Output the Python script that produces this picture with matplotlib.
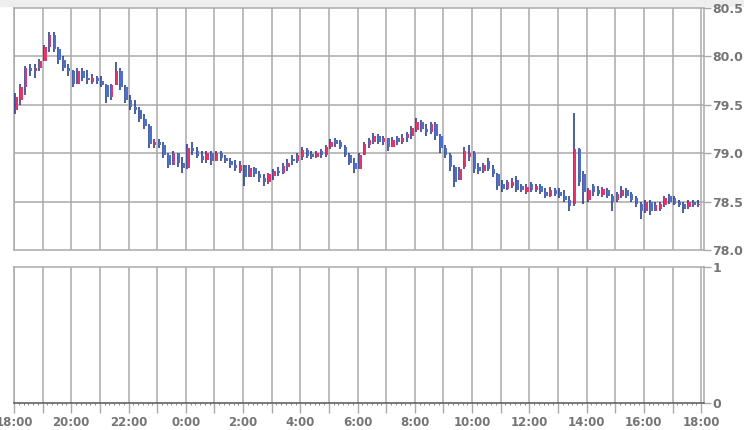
import numpy as np
import matplotlib.pyplot as plt
from matplotlib.patches import Rectangle

# --- 10-minute bars, 18:00 -> 18:00 ---
opens = [79.45, 79.55, 79.68, 79.88, 79.85, 79.88, 79.95, 80.10, 80.22, 80.08, 79.96, 79.88,
         79.85, 79.72, 79.85, 79.78, 79.74, 79.78, 79.75, 79.70, 79.58, 79.70, 79.85, 79.68,
         79.55, 79.48, 79.45, 79.35, 79.28, 79.08, 79.12, 79.08, 78.98, 78.88, 79.00, 78.90,
         78.85, 79.05, 79.02, 78.97, 78.93, 79.00, 78.92, 79.00, 78.95, 78.92, 78.88, 78.82,
         78.88, 78.75, 78.85, 78.78, 78.74, 78.70, 78.76, 78.82, 78.80, 78.86, 78.94, 78.92,
         78.96, 79.03, 78.99, 78.96, 79.02, 78.98, 79.06, 79.14, 79.12, 79.06, 78.98, 78.90,
         78.84, 78.98, 79.08, 79.12, 79.18, 79.12, 79.16, 79.06, 79.16, 79.12, 79.16, 79.18,
         79.24, 79.32, 79.25, 79.22, 79.30, 79.18, 79.05, 78.98, 78.86, 78.72, 78.86, 78.96,
         79.00, 78.86, 78.82, 78.92, 78.84, 78.78, 78.68, 78.63, 78.66, 78.72, 78.66, 78.60,
         78.68, 78.62, 78.66, 78.60, 78.56, 78.62, 78.60, 78.56, 78.52, 78.48, 79.04, 78.78,
         78.52, 78.66, 78.62, 78.57, 78.62, 78.56, 78.52, 78.56, 78.62, 78.58, 78.54, 78.48,
         78.40, 78.50, 78.40, 78.42, 78.46, 78.56, 78.54, 78.50, 78.48, 78.44, 78.50, 78.46]
highs = [79.62, 79.72, 79.90, 79.92, 79.92, 79.97, 80.12, 80.25, 80.25, 80.10, 80.00, 79.92,
         79.86, 79.88, 79.88, 79.86, 79.82, 79.80, 79.80, 79.72, 79.72, 79.94, 79.88, 79.70,
         79.60, 79.55, 79.48, 79.40, 79.30, 79.15, 79.15, 79.12, 79.00, 79.02, 79.00, 78.96,
         79.10, 79.12, 79.06, 79.02, 79.02, 79.02, 79.02, 79.02, 78.98, 78.95, 78.93, 78.92,
         78.88, 78.88, 78.86, 78.82, 78.78, 78.80, 78.84, 78.86, 78.90, 78.94, 78.98, 79.00,
         79.06, 79.05, 79.02, 79.02, 79.04, 79.08, 79.15, 79.16, 79.14, 79.08, 79.00, 78.95,
         79.00, 79.12, 79.16, 79.21, 79.20, 79.18, 79.16, 79.17, 79.18, 79.20, 79.22, 79.28,
         79.36, 79.34, 79.30, 79.32, 79.32, 79.20, 79.08, 79.00, 78.88, 78.86, 79.06, 79.08,
         79.02, 78.90, 78.90, 78.95, 78.88, 78.80, 78.72, 78.72, 78.74, 78.76, 78.68, 78.68,
         78.70, 78.68, 78.68, 78.64, 78.65, 78.64, 78.64, 78.62, 78.56, 79.42, 79.05, 78.82,
         78.64, 78.68, 78.66, 78.65, 78.64, 78.58, 78.60, 78.66, 78.64, 78.60, 78.56, 78.50,
         78.52, 78.52, 78.50, 78.50, 78.56, 78.58, 78.56, 78.52, 78.50, 78.52, 78.52, 78.52]
lows = [79.40, 79.50, 79.60, 79.80, 79.78, 79.85, 79.95, 80.05, 80.05, 79.92, 79.85, 79.80,
        79.68, 79.72, 79.75, 79.72, 79.72, 79.72, 79.68, 79.52, 79.55, 79.70, 79.65, 79.52,
        79.45, 79.40, 79.32, 79.25, 79.05, 79.05, 79.05, 78.95, 78.85, 78.88, 78.86, 78.80,
        78.84, 78.98, 78.95, 78.90, 78.90, 78.88, 78.92, 78.92, 78.90, 78.85, 78.82, 78.80,
        78.66, 78.75, 78.75, 78.70, 78.66, 78.68, 78.72, 78.76, 78.78, 78.82, 78.88, 78.90,
        78.93, 78.95, 78.94, 78.95, 78.95, 78.96, 79.04, 79.06, 79.04, 78.96, 78.88, 78.80,
        78.84, 78.98, 79.05, 79.10, 79.10, 79.08, 79.02, 79.06, 79.08, 79.10, 79.12, 79.15,
        79.22, 79.22, 79.18, 79.20, 79.14, 79.00, 78.95, 78.82, 78.65, 78.72, 78.84, 78.92,
        78.80, 78.78, 78.80, 78.82, 78.75, 78.62, 78.60, 78.62, 78.64, 78.60, 78.60, 78.58,
        78.60, 78.60, 78.58, 78.54, 78.55, 78.56, 78.54, 78.50, 78.40, 78.45, 78.66, 78.48,
        78.50, 78.56, 78.56, 78.55, 78.54, 78.40, 78.50, 78.54, 78.54, 78.50, 78.44, 78.32,
        78.38, 78.36, 78.40, 78.40, 78.44, 78.48, 78.46, 78.44, 78.38, 78.42, 78.44, 78.44]
closes = [79.58, 79.68, 79.88, 79.85, 79.88, 79.95, 80.10, 80.22, 80.08, 79.96, 79.88, 79.85,
          79.72, 79.85, 79.78, 79.76, 79.78, 79.75, 79.70, 79.58, 79.70, 79.85, 79.68, 79.55,
          79.48, 79.45, 79.35, 79.28, 79.10, 79.12, 79.08, 78.98, 78.88, 79.00, 78.90, 78.85,
          79.05, 79.02, 78.97, 78.93, 79.00, 78.92, 79.00, 78.95, 78.92, 78.88, 78.85, 78.88,
          78.75, 78.85, 78.78, 78.74, 78.70, 78.78, 78.82, 78.80, 78.87, 78.90, 78.92, 78.98,
          79.03, 78.97, 78.96, 79.00, 78.98, 79.06, 79.12, 79.10, 79.06, 78.98, 78.90, 78.84,
          78.98, 79.10, 79.14, 79.18, 79.12, 79.16, 79.06, 79.14, 79.12, 79.16, 79.20, 79.26,
          79.32, 79.25, 79.22, 79.30, 79.18, 79.05, 78.98, 78.86, 78.70, 78.84, 79.02, 79.00,
          78.84, 78.82, 78.88, 78.84, 78.78, 78.66, 78.63, 78.70, 78.70, 78.62, 78.62, 78.65,
          78.62, 78.66, 78.60, 78.56, 78.62, 78.58, 78.56, 78.52, 78.45, 79.04, 78.70, 78.60,
          78.62, 78.60, 78.58, 78.63, 78.56, 78.50, 78.58, 78.62, 78.56, 78.52, 78.48, 78.40,
          78.50, 78.40, 78.46, 78.48, 78.54, 78.50, 78.48, 78.46, 78.42, 78.50, 78.46, 78.48]

price_ticks = [78.0, 78.5, 79.0, 79.5, 80.0, 80.5]
time_labels = ["18:00", "20:00", "22:00", "0:00", "2:00", "4:00", "6:00",
               "8:00", "10:00", "12:00", "14:00", "16:00", "18:00"]

o = np.array(opens); h = np.array(highs); l = np.array(lows); c = np.array(closes)
t = np.arange(len(c)) / 6.0 + 0.05   # hours since 18:00
up = c >= o

grid_col = '#a9a9a9'
lab_col = '#757575'
red = '#e6336b'
blue = '#4d6fcc'
navy = '#1c3282'

fig = plt.figure(figsize=(7.44, 4.30), dpi=100)
fig.patches.append(Rectangle((0, 0.986), 1, 0.014, transform=fig.transFigure,
                             color='#eeeeee', zorder=-1))

ax = fig.add_axes([14/744, 180/430, 690/744, 242/430])
ax2 = fig.add_axes([14/744, 27/430, 690/744, 136/430])

xmax = 24.1
for a in (ax, ax2):
    a.set_xlim(0, xmax)
    a.set_xticks(np.arange(0, 25, 1))
    for x in range(0, 25):
        a.axvline(x, color=grid_col, lw=1.1, zorder=1)
    for s in a.spines.values():
        s.set_color(grid_col)
        s.set_linewidth(1.1)
    a.yaxis.tick_right()
    a.tick_params(axis='y', colors=grid_col, length=5, width=1.0, pad=1,
                  labelcolor=lab_col, labelsize=9)

# price panel
ax.set_ylim(78.0, 80.5)
ax.set_yticks(price_ticks)
ax.set_yticklabels([f"{v:.1f}" for v in price_ticks], fontweight='bold')
for v in price_ticks[1:-1]:
    ax.axhline(v, color=grid_col, lw=1.1, zorder=1)
ax.tick_params(axis='x', bottom=False, labelbottom=False)

ax.vlines(t, l, h, color=navy, lw=1.1, zorder=3)
body_lo = np.minimum(o, c)
body_h = np.maximum(np.abs(c - o), 0.015)
ax.bar(t + 0.045, body_h, bottom=body_lo, width=0.085,
       color=np.where(up, red, blue), linewidth=0, zorder=4)

# empty lower panel
ax2.set_ylim(0, 1)
ax2.set_yticks([0, 1])
ax2.set_yticklabels(["0", "1"], fontweight='bold')
ax2.spines['bottom'].set_color('#555555')
ax2.set_xticks(np.arange(0, 25, 1))
ax2.set_xticklabels([time_labels[i // 2] if i % 2 == 0 else "" for i in range(25)],
                    fontweight='bold')
ax2.set_xticks(np.arange(0, xmax, 1/6), minor=True)
ax2.tick_params(axis='x', which='major', length=7, width=1.0, colors=grid_col,
                labelcolor=lab_col, labelsize=8.5, pad=2)
ax2.tick_params(axis='x', which='minor', length=1.5, width=0.6, colors='#777777')

fig.savefig('out.png', dpi=100, facecolor='white')
